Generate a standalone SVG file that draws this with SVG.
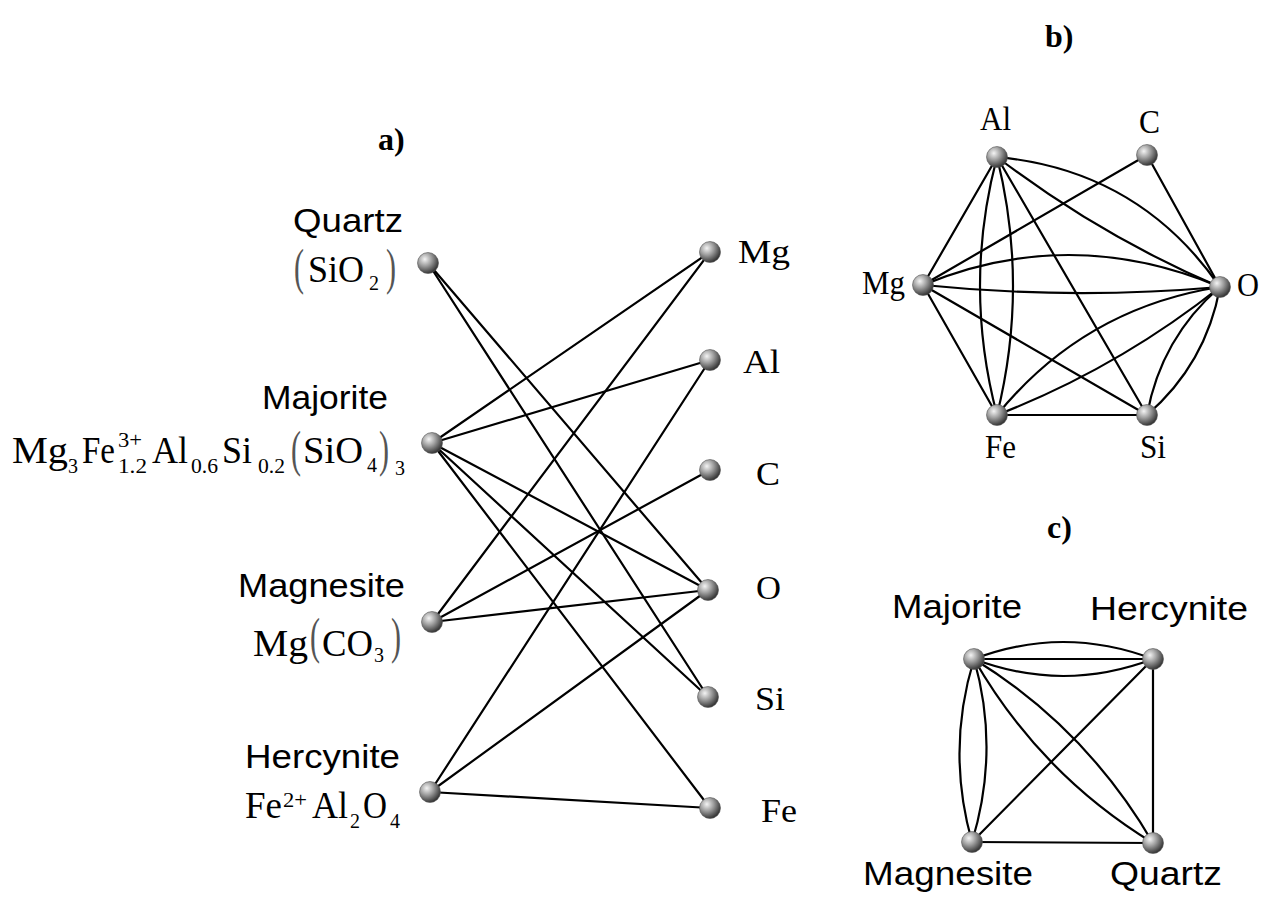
<svg xmlns="http://www.w3.org/2000/svg" width="1273" height="902" viewBox="0 0 1273 902">
<style>
.e{stroke:#000;stroke-width:2.2;fill:none;stroke-linecap:round}
.n{fill:url(#sph);stroke:#555;stroke-width:0.6}
.s{font-family:"Liberation Sans",Arial,sans-serif;font-size:33px;fill:#000}
.f{font-family:"Liberation Serif","Times New Roman",serif;font-size:37px;fill:#000}
.sub{font-family:"Liberation Serif","Times New Roman",serif;font-size:20px;fill:#000}
.p{font-family:"Liberation Serif","Times New Roman",serif;font-size:50px;fill:#555}
.el{font-family:"Liberation Serif","Times New Roman",serif;font-size:34px;fill:#000}
.t{font-family:"Liberation Serif","Times New Roman",serif;font-size:32px;font-weight:bold;fill:#000}
</style>
<defs>
<radialGradient id="sph" cx="0.35" cy="0.32" r="0.7">
<stop offset="0" stop-color="#f4f4f4"/>
<stop offset="0.45" stop-color="#a0a0a0"/>
<stop offset="1" stop-color="#333"/>
</radialGradient>
</defs>
<rect width="1273" height="902" fill="#fff"/>

<text class="t" x="378" y="150">a)</text>
<text class="t" x="1045" y="47">b)</text>
<text class="t" x="1047" y="538">c)</text>

<!-- Part a connectors -->
<g id="edges-a">
<line class="e" x1="428" y1="263" x2="708" y2="590"/>
<line class="e" x1="428" y1="263" x2="708" y2="697"/>
<line class="e" x1="432" y1="443" x2="710" y2="252"/>
<line class="e" x1="432" y1="443" x2="710" y2="360"/>
<line class="e" x1="432" y1="443" x2="708" y2="590"/>
<line class="e" x1="432" y1="443" x2="708" y2="697"/>
<line class="e" x1="432" y1="443" x2="710" y2="808"/>
<line class="e" x1="432" y1="622" x2="710" y2="252"/>
<line class="e" x1="432" y1="622" x2="710" y2="470"/>
<line class="e" x1="432" y1="622" x2="708" y2="590"/>
<line class="e" x1="430" y1="792" x2="710" y2="360"/>
<line class="e" x1="430" y1="792" x2="708" y2="590"/>
<line class="e" x1="430" y1="792" x2="710" y2="808"/>
</g>

<g id="a-quartz">
<circle class="n" cx="428" cy="263" r="10.5"/>
<text class="s" x="293" y="232" textLength="110" lengthAdjust="spacingAndGlyphs">Quartz</text>
<text class="p" x="294" y="284" textLength="10" lengthAdjust="spacingAndGlyphs">(</text>
<text class="f" x="308" y="282" textLength="56" lengthAdjust="spacingAndGlyphs">SiO</text>
<text class="sub" x="369" y="290">2</text>
<text class="p" x="386" y="284" textLength="10" lengthAdjust="spacingAndGlyphs">)</text>
</g>
<g id="a-majorite">
<circle class="n" cx="432" cy="443" r="10.5"/>
<text class="s" x="262" y="409" textLength="126" lengthAdjust="spacingAndGlyphs">Majorite</text>
<text class="f" x="12" y="463" textLength="56" lengthAdjust="spacingAndGlyphs">Mg</text>
<text class="sub" x="68" y="473">3</text>
<text class="f" x="82" y="463" textLength="33" lengthAdjust="spacingAndGlyphs">Fe</text>
<text class="sub" x="118" y="447" font-size="18" textLength="24" lengthAdjust="spacingAndGlyphs">3+</text>
<text class="sub" x="118" y="473" textLength="29" lengthAdjust="spacingAndGlyphs">1.2</text>
<text class="f" x="152" y="463" textLength="36" lengthAdjust="spacingAndGlyphs">Al</text>
<text class="sub" x="191" y="473" textLength="27" lengthAdjust="spacingAndGlyphs">0.6</text>
<text class="f" x="222" y="463" textLength="30" lengthAdjust="spacingAndGlyphs">Si</text>
<text class="sub" x="258" y="473" textLength="27" lengthAdjust="spacingAndGlyphs">0.2</text>
<text class="p" x="291" y="466" textLength="10" lengthAdjust="spacingAndGlyphs">(</text>
<text class="f" x="303" y="463" textLength="60" lengthAdjust="spacingAndGlyphs">SiO</text>
<text class="sub" x="367" y="472">4</text>
<text class="p" x="379" y="466" textLength="10" lengthAdjust="spacingAndGlyphs">)</text>
<text class="sub" x="395" y="475">3</text>
</g>
<g id="a-magnesite">
<circle class="n" cx="432" cy="622" r="10.5"/>
<text class="s" x="238" y="597" textLength="167" lengthAdjust="spacingAndGlyphs">Magnesite</text>
<text class="f" x="253" y="656" textLength="55" lengthAdjust="spacingAndGlyphs">Mg</text>
<text class="p" x="310" y="653" textLength="10" lengthAdjust="spacingAndGlyphs">(</text>
<text class="f" x="322" y="656" textLength="51" lengthAdjust="spacingAndGlyphs">CO</text>
<text class="sub" x="374" y="662">3</text>
<text class="p" x="391" y="653" textLength="10" lengthAdjust="spacingAndGlyphs">)</text>
</g>
<g id="a-hercynite">
<circle class="n" cx="430" cy="792" r="10.5"/>
<text class="s" x="245" y="768" textLength="155" lengthAdjust="spacingAndGlyphs">Hercynite</text>
<text class="f" x="245" y="818" textLength="37" lengthAdjust="spacingAndGlyphs">Fe</text>
<text class="sub" x="283" y="807" textLength="24" lengthAdjust="spacingAndGlyphs">2+</text>
<text class="f" x="312" y="818" textLength="36" lengthAdjust="spacingAndGlyphs">Al</text>
<text class="sub" x="350" y="828">2</text>
<text class="f" x="363" y="818" textLength="24" lengthAdjust="spacingAndGlyphs">O</text>
<text class="sub" x="390" y="828">4</text>
</g>
<g id="a-Mg"><circle class="n" cx="710" cy="252" r="10.5"/><text class="el" x="738" y="263" textLength="52" lengthAdjust="spacingAndGlyphs">Mg</text></g>
<g id="a-Al"><circle class="n" cx="710" cy="360" r="10.5"/><text class="el" x="743" y="373" textLength="37" lengthAdjust="spacingAndGlyphs">Al</text></g>
<g id="a-C"><circle class="n" cx="710" cy="470" r="10.5"/><text class="el" x="756" y="485" textLength="24" lengthAdjust="spacingAndGlyphs">C</text></g>
<g id="a-O"><circle class="n" cx="708" cy="590" r="10.5"/><text class="el" x="756" y="599" textLength="25" lengthAdjust="spacingAndGlyphs">O</text></g>
<g id="a-Si"><circle class="n" cx="708" cy="697" r="10.5"/><text class="el" x="755" y="710" textLength="30" lengthAdjust="spacingAndGlyphs">Si</text></g>
<g id="a-Fe"><circle class="n" cx="710" cy="808" r="10.5"/><text class="el" x="761" y="822" textLength="36" lengthAdjust="spacingAndGlyphs">Fe</text></g>

<!-- Part b connectors -->
<g id="edges-b">
<line class="e" x1="997" y1="157" x2="923" y2="285"/>
<line class="e" x1="997" y1="157" x2="1147" y2="415"/>
<line class="e" x1="923" y1="285" x2="1147" y2="155"/>
<line class="e" x1="1147" y1="155" x2="1220" y2="287"/>
<line class="e" x1="923" y1="285" x2="997" y2="415"/>
<line class="e" x1="923" y1="285" x2="1147" y2="415"/>
<line class="e" x1="997" y1="415" x2="1147" y2="415"/>
<path class="e" d="M997,157 Q963,286 997,415"/>
<path class="e" d="M997,157 Q1029,286 997,415"/>
<path class="e" d="M997,157 Q1139,170 1220,287"/>
<path class="e" d="M997,157 Q1100,236 1220,287"/>
<path class="e" d="M923,285 Q1071,224 1220,287"/>
<path class="e" d="M923,285 Q1071,300 1220,287"/>
<path class="e" d="M997,415 Q1084,308 1220,287"/>
<path class="e" d="M997,415 Q1118,368 1220,287"/>
<path class="e" d="M1147,415 Q1206,364 1220,287"/>
<path class="e" d="M1147,415 Q1161,338 1220,287"/>
</g>
<g id="b-Al"><circle class="n" cx="997" cy="157" r="10.5"/><text class="el" x="980" y="130" font-size="31" textLength="31" lengthAdjust="spacingAndGlyphs">Al</text></g>
<g id="b-C"><circle class="n" cx="1147" cy="155" r="10.5"/><text class="el" x="1139" y="133" font-size="31" textLength="21" lengthAdjust="spacingAndGlyphs">C</text></g>
<g id="b-Mg"><circle class="n" cx="923" cy="285" r="10.5"/><text class="el" x="862" y="294" font-size="31" textLength="43" lengthAdjust="spacingAndGlyphs">Mg</text></g>
<g id="b-O"><circle class="n" cx="1220" cy="287" r="10.5"/><text class="el" x="1237" y="296" font-size="31" textLength="22" lengthAdjust="spacingAndGlyphs">O</text></g>
<g id="b-Fe"><circle class="n" cx="997" cy="415" r="10.5"/><text class="el" x="985" y="458" font-size="31" textLength="31" lengthAdjust="spacingAndGlyphs">Fe</text></g>
<g id="b-Si"><circle class="n" cx="1147" cy="415" r="10.5"/><text class="el" x="1140" y="458" font-size="31" textLength="26" lengthAdjust="spacingAndGlyphs">Si</text></g>

<!-- Part c connectors -->
<g id="edges-c">
<line class="e" x1="974" y1="659" x2="1153" y2="659"/>
<path class="e" d="M974,659 Q1063,625 1153,659"/>
<path class="e" d="M974,659 Q1063,693 1153,659"/>
<path class="e" d="M974,659 Q946,750 972,842"/>
<path class="e" d="M974,659 Q1000,750 972,842"/>
<path class="e" d="M974,659 Q1040,774 1153,843"/>
<path class="e" d="M974,659 Q1086,728 1153,843"/>
<line class="e" x1="1153" y1="659" x2="972" y2="842"/>
<line class="e" x1="1153" y1="659" x2="1153" y2="843"/>
<line class="e" x1="972" y1="842" x2="1153" y2="843"/>
</g>
<g id="c-majorite"><circle class="n" cx="974" cy="659" r="10.5"/><text class="s" x="892" y="618" textLength="130" lengthAdjust="spacingAndGlyphs">Majorite</text></g>
<g id="c-hercynite"><circle class="n" cx="1153" cy="659" r="10.5"/><text class="s" x="1090" y="620" textLength="158" lengthAdjust="spacingAndGlyphs">Hercynite</text></g>
<g id="c-magnesite"><circle class="n" cx="972" cy="842" r="10.5"/><text class="s" x="863" y="885" textLength="170" lengthAdjust="spacingAndGlyphs">Magnesite</text></g>
<g id="c-quartz"><circle class="n" cx="1153" cy="843" r="10.5"/><text class="s" x="1110" y="885" textLength="112" lengthAdjust="spacingAndGlyphs">Quartz</text></g>
</svg>
